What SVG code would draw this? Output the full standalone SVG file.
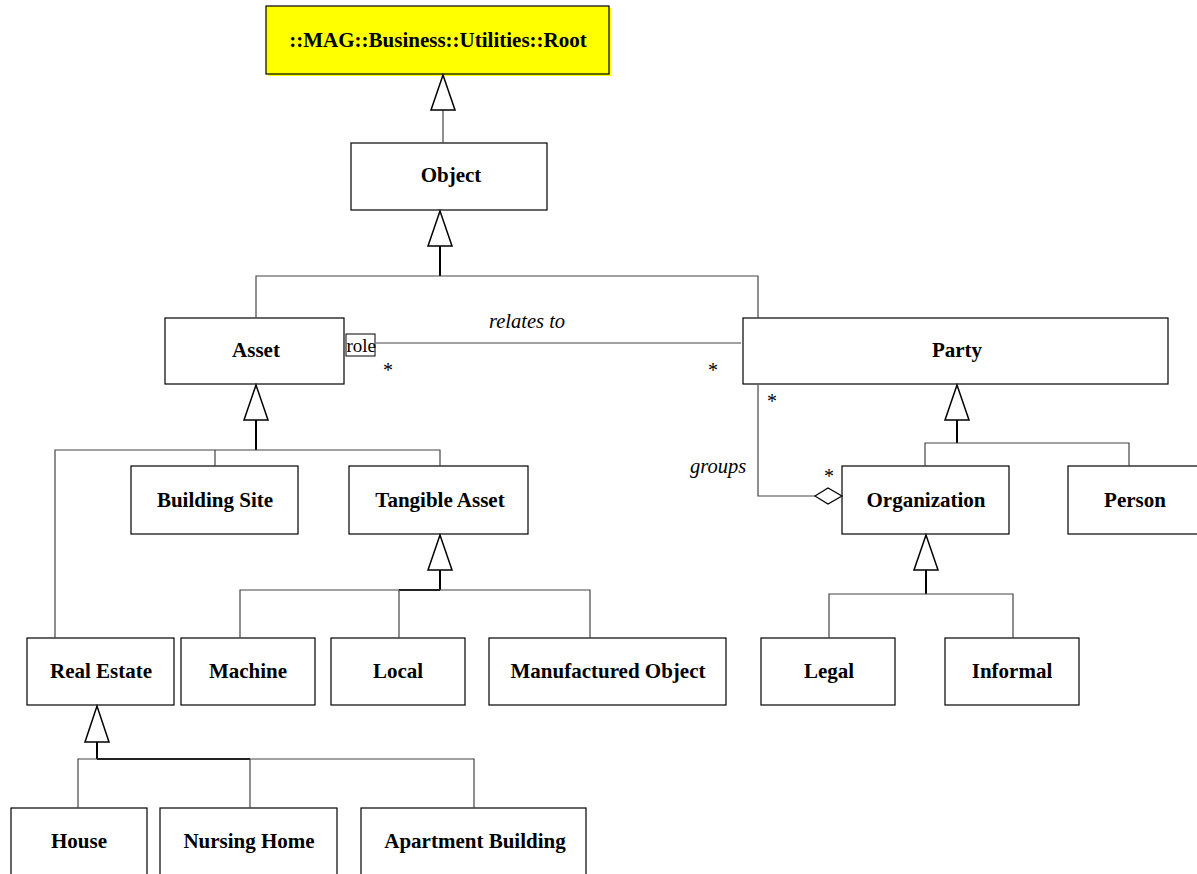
<svg xmlns="http://www.w3.org/2000/svg" width="1197" height="874" viewBox="0 0 1197 874">
  <style>
    .box { fill: #ffffff; stroke: #000000; stroke-width: 1.2; }
    .root { fill: #ffff00; stroke: #000000; stroke-width: 1.2; }
    .lbl { font-family: "Liberation Serif", "Times New Roman", serif; font-weight: bold; font-size: 21px; fill: #000; text-anchor: middle; dominant-baseline: central; }
    .it { font-family: "Liberation Serif", "Times New Roman", serif; font-style: italic; font-size: 20.5px; fill: #000; }
    .mult { font-family: "Liberation Serif", "Times New Roman", serif; font-size: 20px; fill: #000; }
    .line { fill: none; stroke: #444; stroke-width: 1.2; }
    .stem { fill: none; stroke: #000; stroke-width: 2; }
    .tri { fill: #fff; stroke: #000; stroke-width: 1.5; }
  </style>

  <!-- class boxes -->
  <g id="root">
    <rect x="268" y="8" width="343" height="68" fill="#ffff00"/>
    <rect class="root" x="266" y="6" width="343" height="68"/>
    <text class="lbl" x="438" y="40">::MAG::Business::Utilities::Root</text>
  </g>
  <g id="object">
    <rect class="box" x="351" y="143" width="196" height="67"/>
    <text class="lbl" x="451" y="175">Object</text>
  </g>
  <g id="asset">
    <rect class="box" x="165" y="318" width="179" height="66"/>
    <text class="lbl" x="256" y="350">Asset</text>
  </g>
  <g id="party">
    <rect class="box" x="743" y="318" width="425" height="66"/>
    <text class="lbl" x="957" y="350">Party</text>
  </g>
  <g id="building-site">
    <rect class="box" x="131" y="466" width="167" height="68"/>
    <text class="lbl" x="215" y="500">Building Site</text>
  </g>
  <g id="tangible-asset">
    <rect class="box" x="349" y="466" width="179" height="68"/>
    <text class="lbl" x="440" y="500">Tangible Asset</text>
  </g>
  <g id="organization">
    <rect class="box" x="842" y="466" width="167" height="68"/>
    <text class="lbl" x="926" y="500">Organization</text>
  </g>
  <g id="person">
    <rect class="box" x="1068" y="466" width="140" height="68"/>
    <text class="lbl" x="1135" y="500">Person</text>
  </g>
  <g id="real-estate">
    <rect class="box" x="27" y="638" width="147" height="67"/>
    <text class="lbl" x="101" y="671">Real Estate</text>
  </g>
  <g id="machine">
    <rect class="box" x="181" y="638" width="134" height="67"/>
    <text class="lbl" x="248" y="671">Machine</text>
  </g>
  <g id="local">
    <rect class="box" x="331" y="638" width="134" height="67"/>
    <text class="lbl" x="398" y="671">Local</text>
  </g>
  <g id="manufactured-object">
    <rect class="box" x="489" y="638" width="237" height="67"/>
    <text class="lbl" x="608" y="671">Manufactured Object</text>
  </g>
  <g id="legal">
    <rect class="box" x="761" y="638" width="134" height="67"/>
    <text class="lbl" x="829" y="671">Legal</text>
  </g>
  <g id="informal">
    <rect class="box" x="945" y="638" width="134" height="67"/>
    <text class="lbl" x="1012" y="671">Informal</text>
  </g>
  <g id="house">
    <rect class="box" x="11" y="808" width="136" height="80"/>
    <text class="lbl" x="79" y="841">House</text>
  </g>
  <g id="nursing-home">
    <rect class="box" x="160" y="808" width="177" height="80"/>
    <text class="lbl" x="249" y="841">Nursing Home</text>
  </g>
  <g id="apartment-building">
    <rect class="box" x="361" y="808" width="225" height="80"/>
    <text class="lbl" x="475" y="841">Apartment Building</text>
  </g>

  <!-- connectors -->
  <g id="connectors">
    <!-- Object -> Root -->
    <line class="line" x1="443" y1="110" x2="443" y2="143"/>
    <polygon class="tri" points="443,75 431,110 455,110"/>

    <!-- Asset, Party -> Object -->
    <line class="stem" x1="440" y1="246" x2="440" y2="276"/>
    <polyline class="line" points="256,318 256,276 758,276 758,318"/>
    <polygon class="tri" points="440,211 428,246 452,246"/>

    <!-- relates to association -->
    <rect x="346" y="334" width="29" height="22" fill="#fff" stroke="#000" stroke-width="1"/>
    <text x="346.5" y="352" font-family="Liberation Serif, Times New Roman, serif" font-size="19" fill="#000">role</text>
    <line class="line" x1="376" y1="343" x2="741" y2="343"/>
    <text class="it" x="489" y="328">relates to</text>
    <text class="mult" x="383" y="377">*</text>
    <text class="mult" x="708" y="377">*</text>

    <!-- groups aggregation -->
    <polyline class="line" points="758,385 758,496 815,496"/>
    <polygon points="815,496 828,488 842,496 828,504" fill="#fff" stroke="#000" stroke-width="1.2"/>
    <text class="mult" x="767" y="408">*</text>
    <text class="it" x="690" y="473">groups</text>
    <text class="mult" x="824" y="483">*</text>

    <!-- Organization, Person -> Party -->
    <line class="stem" x1="957" y1="420" x2="957" y2="443"/>
    <polyline class="line" points="925,466 925,443 1129,443 1129,466"/>
    <polygon class="tri" points="957,385 945,420 969,420"/>

    <!-- Real Estate, Building Site, Tangible Asset -> Asset -->
    <line class="stem" x1="256" y1="420" x2="256" y2="450"/>
    <polyline class="line" points="55,638 55,450 440,450 440,466"/>
    <line class="line" x1="215" y1="450" x2="215" y2="466"/>
    <polygon class="tri" points="256,385 244,420 268,420"/>

    <!-- Machine, Local, Manufactured Object -> Tangible Asset -->
    <line class="stem" x1="440" y1="570" x2="440" y2="590"/>
    <line class="stem" x1="399" y1="590" x2="440" y2="590"/>
    <polyline class="line" points="240,638 240,590 590,590 590,638"/>
    <line class="line" x1="399" y1="590" x2="399" y2="638"/>
    <polygon class="tri" points="440,535 428,570 452,570"/>

    <!-- Legal, Informal -> Organization -->
    <line class="stem" x1="926" y1="570" x2="926" y2="594"/>
    <polyline class="line" points="829,638 829,594 1013,594 1013,638"/>
    <polygon class="tri" points="926,535 914,570 938,570"/>

    <!-- House, Nursing Home, Apartment Building -> Real Estate -->
    <line class="stem" x1="97" y1="742" x2="97" y2="759"/>
    <line class="stem" x1="97" y1="759" x2="250" y2="759"/>
    <polyline class="line" points="78,808 78,759 474,759 474,808"/>
    <line class="line" x1="250" y1="759" x2="250" y2="808"/>
    <polygon class="tri" points="97,706 85,742 109,742"/>
  </g>
</svg>
